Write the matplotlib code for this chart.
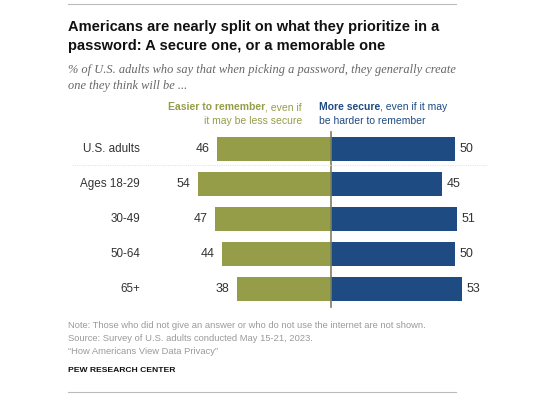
import numpy as np
import matplotlib.pyplot as plt

# data
groups = ['U.S. adults', 'Ages 18-29', '30-49', '50-64', '65+']
easier = [46, 54, 47, 44, 38]
secure = [50, 45, 51, 50, 53]

olive = '#959D48'
navy = '#1E4B82'

W, H = 560, 396
fig = plt.figure(figsize=(W / 100, H / 100), dpi=100)
plt.rcParams['font.family'] = ['Liberation Sans', 'DejaVu Sans']

def px(x, y):
    return x / W, 1 - y / H

# axes placed in pixel space: x 68..488, y 130..310
scale = 2.47
cx = 331
x0, x1 = 68, 488
y0, y1 = 130, 310
ax = fig.add_axes([x0 / W, 1 - y1 / H, (x1 - x0) / W, (y1 - y0) / H])
ax.set_xlim(-(cx - x0) / scale, (x1 - cx) / scale)
ax.set_ylim(4 + (y1 - 289) / 35, -(149 - y0) / 35)
ax.axis('off')

rows = np.arange(len(groups))
ax.barh(rows, [-v for v in easier], height=0.66, color=olive)
ax.barh(rows, secure, height=0.66, color=navy)
ax.plot([0, 0], [-0.49, 4.51], color='#7A7F5E', lw=1.2)
ax.plot([-(cx - 72) / scale, (x1 - cx) / scale], [0.46, 0.46], color='#E4E4E4', lw=0.8, ls=(0, (1, 1)))

for i, g in enumerate(groups):
    ax.text(-(cx - 140) / scale, i, g, ha='right', va='center', fontsize=8.4, color='#333333')
    ax.text(-easier[i] - 3, i, str(easier[i]), ha='right', va='center', fontsize=9, color='#333333')
    ax.text(secure[i] + 2, i, str(secure[i]), ha='left', va='center', fontsize=9, color='#333333')

# titles
fig.add_artist(plt.Line2D([68 / W, 456 / W], [1 - 4 / H, 1 - 4 / H], color='#BBBBBB', lw=0.8))
fig.text(*px(68, 27), 'Americans are nearly split on what they prioritize in a',
         fontsize=10.5, fontweight='bold', va='center', color='#111111')
fig.text(*px(68, 46), 'password: A secure one, or a memorable one',
         fontsize=10.5, fontweight='bold', va='center', color='#111111')
fig.text(*px(68, 70), '% of U.S. adults who say that when picking a password, they generally create',
         fontsize=8.9, style='italic', family='Liberation Serif', va='center', color='#666666')
fig.text(*px(68, 86), 'one they think will be ...',
         fontsize=8.9, style='italic', family='Liberation Serif', va='center', color='#666666')

# column headers
e1 = fig.text(*px(302, 107), ', even if', fontsize=7.5, ha='right', va='center', color=olive)
fig.text(*px(302, 121), 'it may be less secure', fontsize=7.5, ha='right', va='center', color=olive)
fig.canvas.draw()
r = fig.canvas.get_renderer()
bb = e1.get_window_extent(r)
fig.text(bb.x0 / W, 1 - 107 / H, 'Easier to remember', fontsize=7.5, fontweight='bold',
         ha='right', va='center', color=olive)

s = fig.text(*px(319, 107), 'More secure', fontsize=7.5, fontweight='bold', ha='left', va='center', color=navy)
fig.canvas.draw()
bb2 = s.get_window_extent(r)
fig.text(bb2.x1 / W, 1 - 107 / H, ', even if it may', fontsize=7.5, ha='left', va='center', color=navy)
fig.text(*px(319, 121), 'be harder to remember', fontsize=7.5, ha='left', va='center', color=navy)

# notes
notes = ['Note: Those who did not give an answer or who do not use the internet are not shown.',
         'Source: Survey of U.S. adults conducted May 15-21, 2023.',
         '\u201cHow Americans View Data Privacy\u201d']
for k, n in enumerate(notes):
    fig.text(*px(68, 325 + k * 13.5), n, fontsize=6.75, va='center', color='#9A9A9A')
fig.text(*px(68, 371), 'PEW RESEARCH CENTER', fontsize=6.1, fontweight='bold', va='center', color='#111111')
fig.add_artist(plt.Line2D([68 / W, 456 / W], [1 - 392 / H, 1 - 392 / H], color='#BBBBBB', lw=0.8))

fig.savefig('out.png', dpi=100)
